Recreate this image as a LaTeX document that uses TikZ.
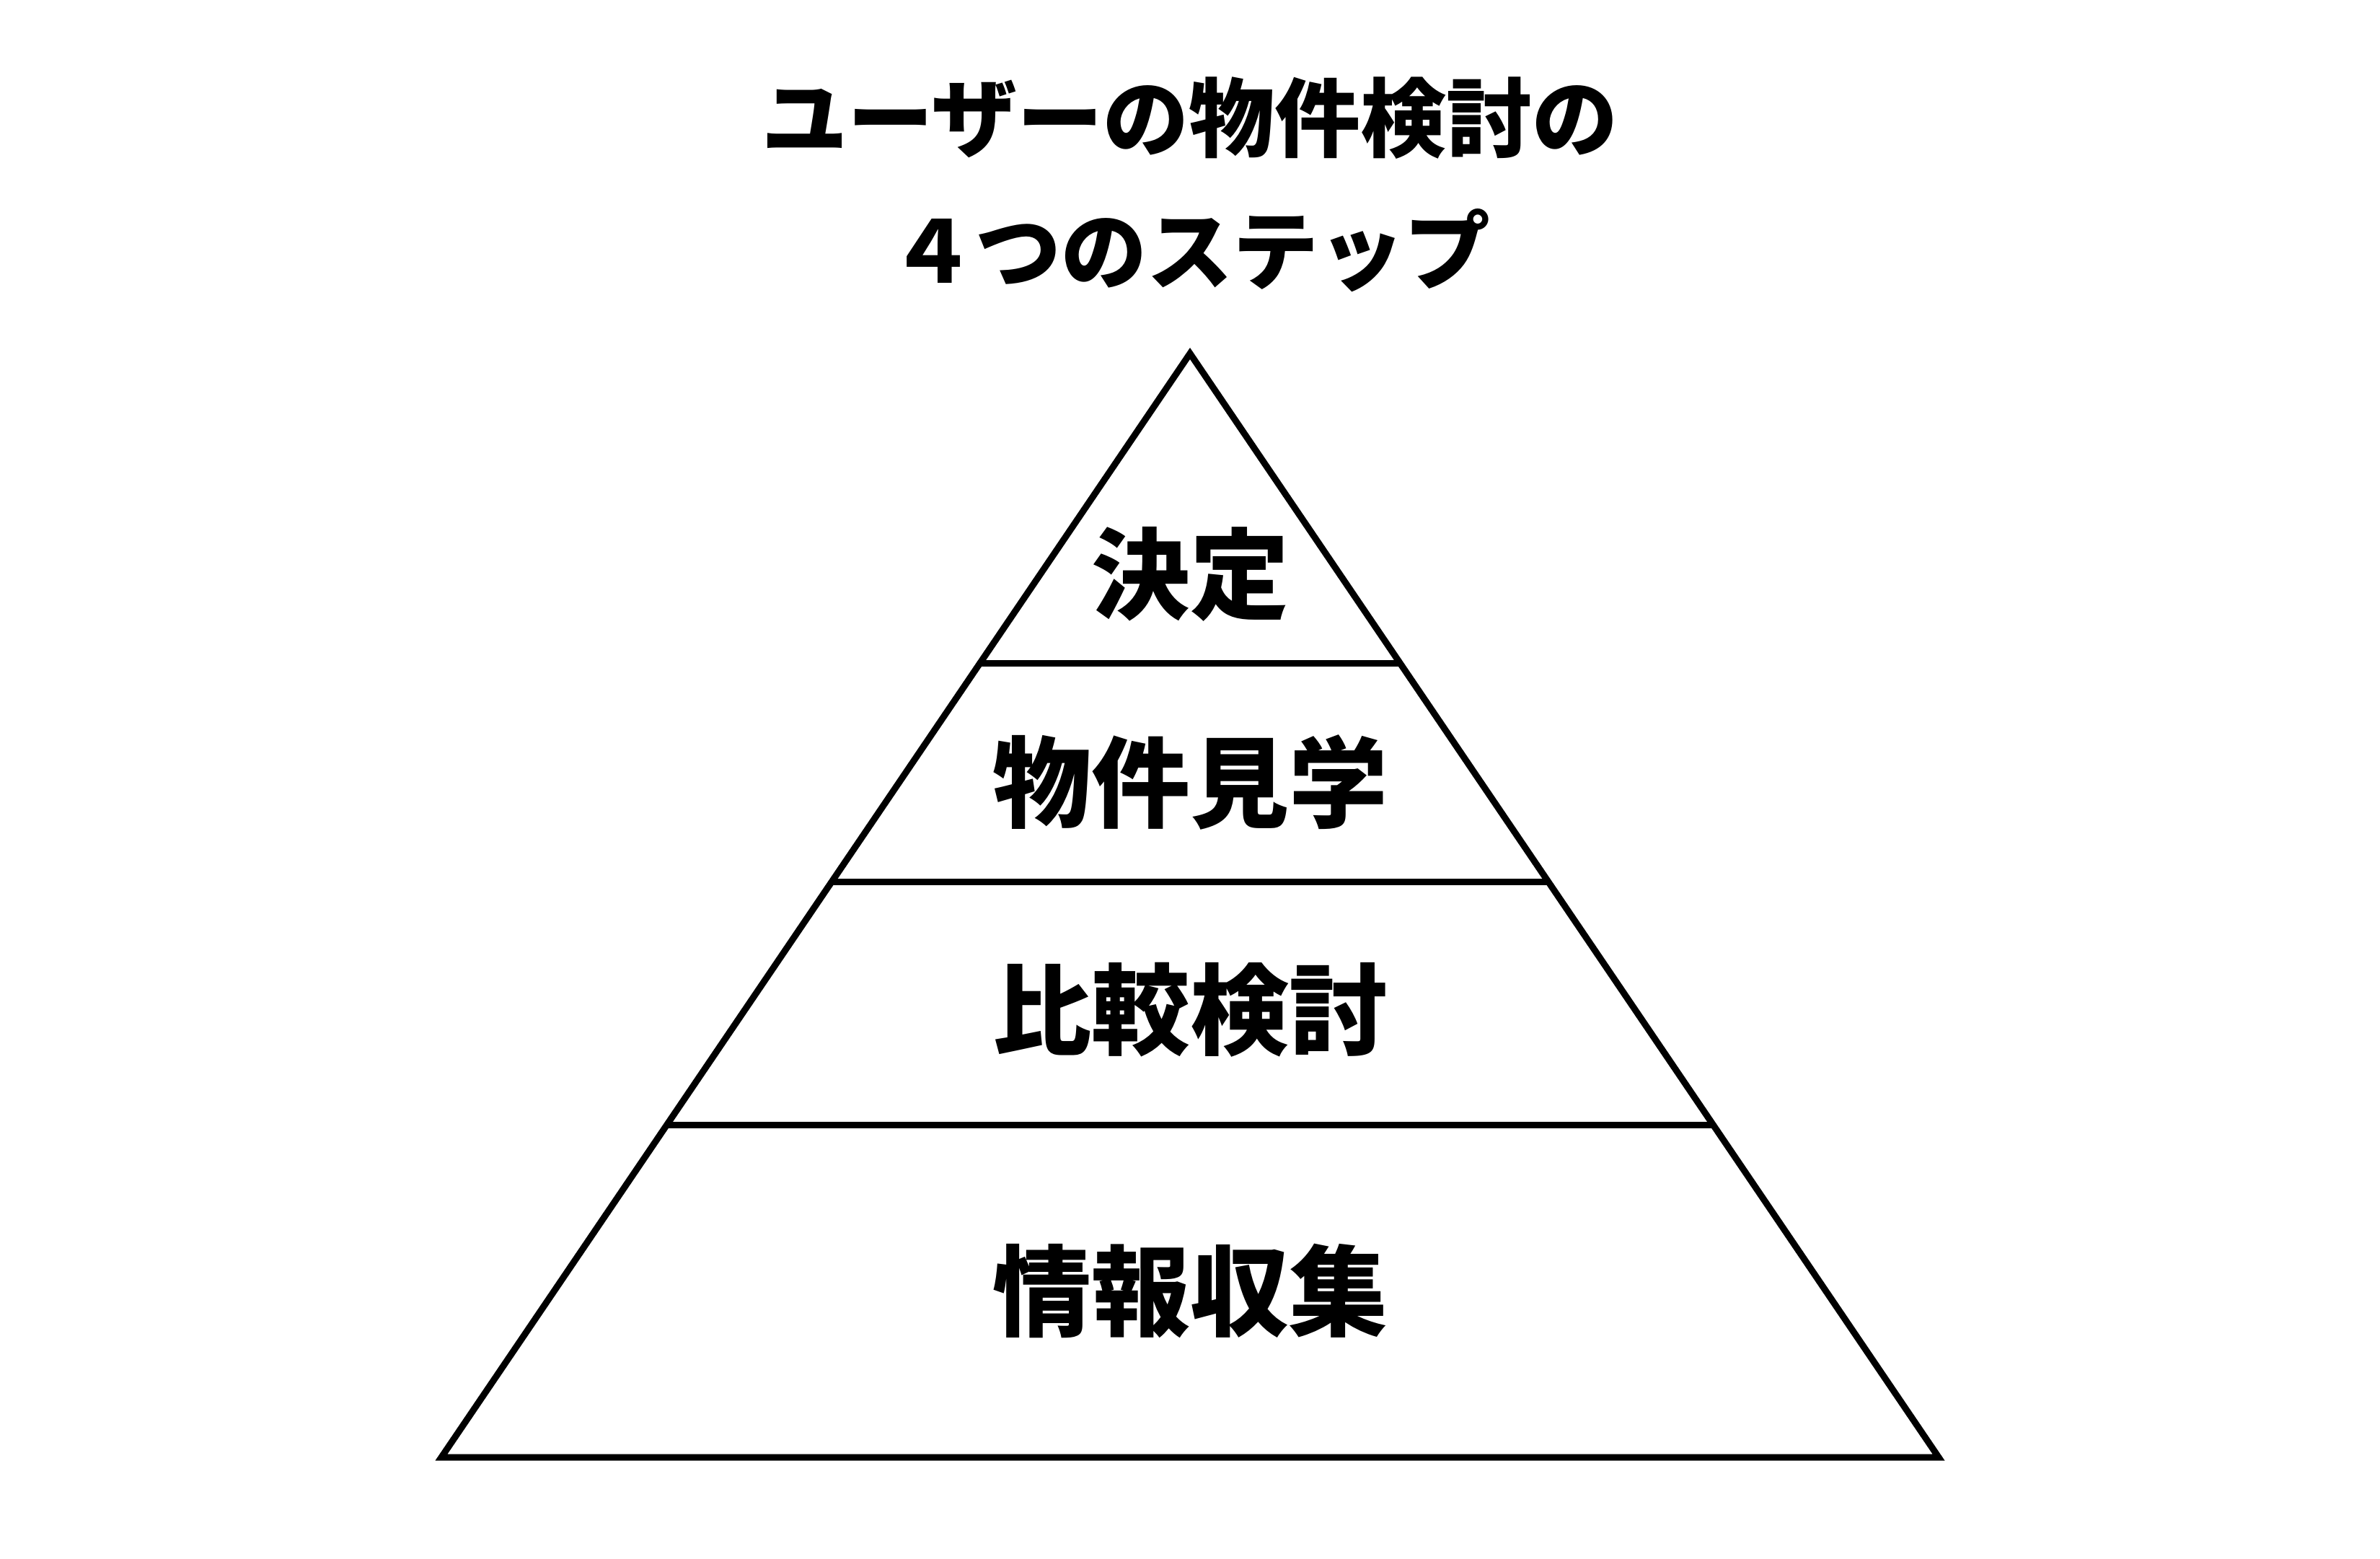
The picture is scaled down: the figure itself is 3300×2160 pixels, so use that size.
\documentclass[tikz,border=0pt]{standalone}
\usepackage{fontspec}
\newfontfamily\jp{Noto Sans CJK JP Black}
\usetikzlibrary{calc}
\tikzset{
  edge/.style={line width=9pt, line join=miter, black},
  level/.style={font=\jp\fontsize{137}{160}\selectfont, inner sep=0pt},
  titletext/.style={font=\jp\fontsize{119}{140}\selectfont, inner sep=0pt}
}
\begin{document}
\begin{tikzpicture}[x=1pt,y=-1pt]
\useasboundingbox (0,0) rectangle (3300,2160);
\fill[white] (0,0) rectangle (3300,2160);
\coordinate (apex) at (1650,490);
\coordinate (bl) at (612,2020);
\coordinate (br) at (2688,2020);
\draw[edge] (apex) -- (bl) -- (br) -- cycle;
\coordinate (l1) at ($(apex)!0.281!(bl)$);
\coordinate (r1) at ($(apex)!0.281!(br)$);
\coordinate (l2) at ($(apex)!0.479!(bl)$);
\coordinate (r2) at ($(apex)!0.479!(br)$);
\coordinate (l3) at ($(apex)!0.699!(bl)$);
\coordinate (r3) at ($(apex)!0.699!(br)$);
\draw[edge] (l1) -- (r1);
\draw[edge] (l2) -- (r2);
\draw[edge] (l3) -- (r3);
\node[titletext] (t1) at (1650,164) {ユーザーの物件検討の};
\node[titletext] (t2) at (1650,347) {４つのステップ};
\node[level] (s1) at (1650,796) {決定};
\node[level] (s2) at (1650,1084) {物件見学};
\node[level] (s3) at (1650,1400) {比較検討};
\node[level] (s4) at (1650,1789) {情報収集};
\end{tikzpicture}
\end{document}
